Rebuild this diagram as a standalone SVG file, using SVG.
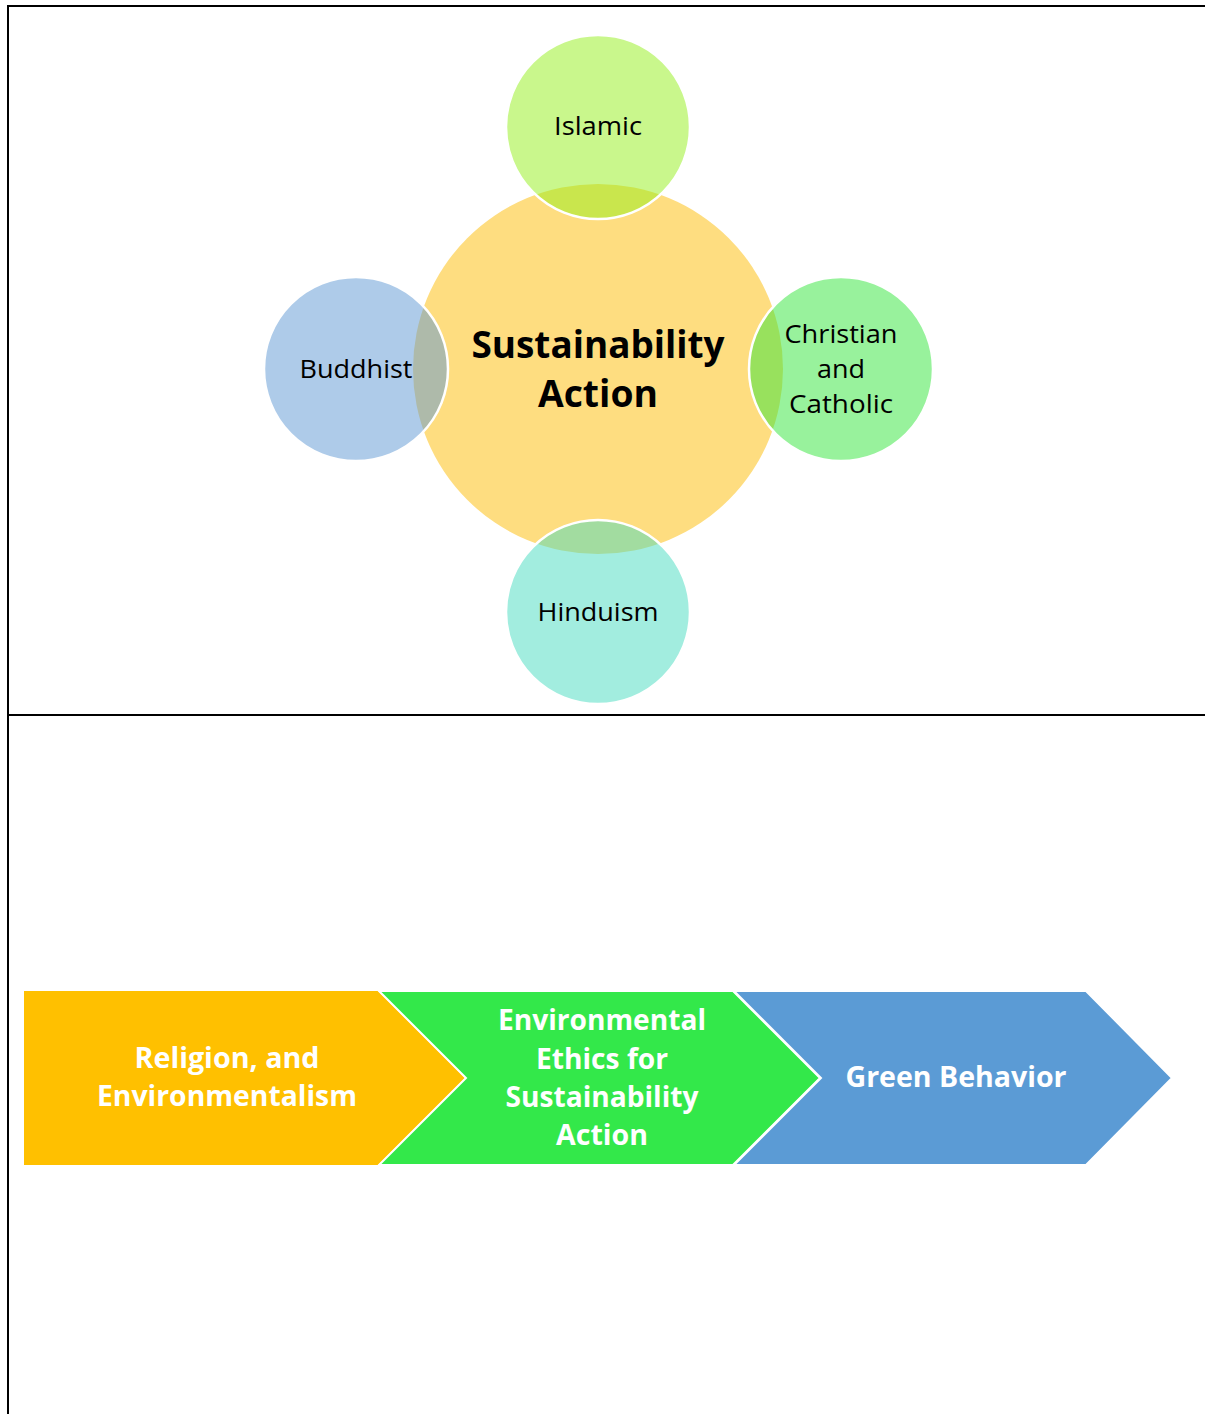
<svg xmlns="http://www.w3.org/2000/svg" width="1205" height="1414" viewBox="0 0 1205 1414">
<style>
.frame{stroke:#000;stroke-width:2;fill:none}
.sat{stroke:#fff;stroke-width:2.5}
.lbl{font-family:"Open Sans","Noto Sans",sans-serif;font-size:26px;fill:#000;text-anchor:middle}
.ctr{font-family:"Open Sans","Noto Sans",sans-serif;font-size:37px;font-weight:bold;fill:#000;text-anchor:middle}
.chev{stroke:#fff;stroke-width:2}
.clbl{font-family:"Open Sans","Noto Sans",sans-serif;font-size:28px;font-weight:bold;fill:#fff;text-anchor:middle}
</style>
<rect width="1205" height="1414" fill="#fff"/>
<g id="frame">
<line class="frame" x1="7" y1="6" x2="1205" y2="6"/>
<line class="frame" x1="8" y1="5" x2="8" y2="1414"/>
<line class="frame" x1="8" y1="715" x2="1205" y2="715"/>
</g>
<g id="center">
<circle cx="598" cy="369" r="185" fill="#FEDD80"/>
<text class="ctr" x="598" y="358" textLength="253" lengthAdjust="spacingAndGlyphs">Sustainability</text>
<text class="ctr" x="598" y="407" textLength="120" lengthAdjust="spacingAndGlyphs">Action</text>
</g>
<g id="islamic">
<circle class="sat" cx="598" cy="127" r="92" fill="rgb(147,239,25)" fill-opacity="0.5"/>
<text class="lbl" x="598" y="135" textLength="88" lengthAdjust="spacingAndGlyphs">Islamic</text>
</g>
<g id="buddhist">
<circle class="sat" cx="356" cy="369" r="92" fill="rgb(93,151,211)" fill-opacity="0.5"/>
<text class="lbl" x="356" y="378" textLength="113" lengthAdjust="spacingAndGlyphs">Buddhist</text>
</g>
<g id="christian">
<circle class="sat" cx="841" cy="369" r="92" fill="rgb(49,229,57)" fill-opacity="0.5"/>
<text class="lbl" x="841" y="343" textLength="113" lengthAdjust="spacingAndGlyphs">Christian</text>
<text class="lbl" x="841" y="378" textLength="48" lengthAdjust="spacingAndGlyphs">and</text>
<text class="lbl" x="841" y="413" textLength="104" lengthAdjust="spacingAndGlyphs">Catholic</text>
</g>
<g id="hinduism">
<circle class="sat" cx="598" cy="612" r="92" fill="rgb(69,219,191)" fill-opacity="0.5"/>
<text class="lbl" x="598" y="621" textLength="121" lengthAdjust="spacingAndGlyphs">Hinduism</text>
</g>
<g id="connectors"></g>
<g id="step1">
<path d="M24,991 L378,991 L465,1078 L378,1165 L24,1165 Z" fill="#FFC000"/>
<text class="clbl" x="227" y="1068" textLength="185" lengthAdjust="spacingAndGlyphs">Religion, and</text>
<text class="clbl" x="227" y="1106" textLength="260" lengthAdjust="spacingAndGlyphs">Environmentalism</text>
</g>
<g id="step2">
<path class="chev" d="M379,991 L733,991 L820,1078 L733,1165 L379,1165 L466,1078 Z" fill="#33E84A"/>
<text class="clbl" x="602" y="1030" textLength="208" lengthAdjust="spacingAndGlyphs">Environmental</text>
<text class="clbl" x="602" y="1069" textLength="132" lengthAdjust="spacingAndGlyphs">Ethics for</text>
<text class="clbl" x="602" y="1107" textLength="193" lengthAdjust="spacingAndGlyphs">Sustainability</text>
<text class="clbl" x="602" y="1145" textLength="92" lengthAdjust="spacingAndGlyphs">Action</text>
</g>
<g id="step3">
<path class="chev" d="M734,991 L1086,991 L1172,1078 L1086,1165 L734,1165 L821,1078 Z" fill="#5B9BD5"/>
<text class="clbl" x="956" y="1087" textLength="221" lengthAdjust="spacingAndGlyphs">Green Behavior</text>
</g>
</svg>
